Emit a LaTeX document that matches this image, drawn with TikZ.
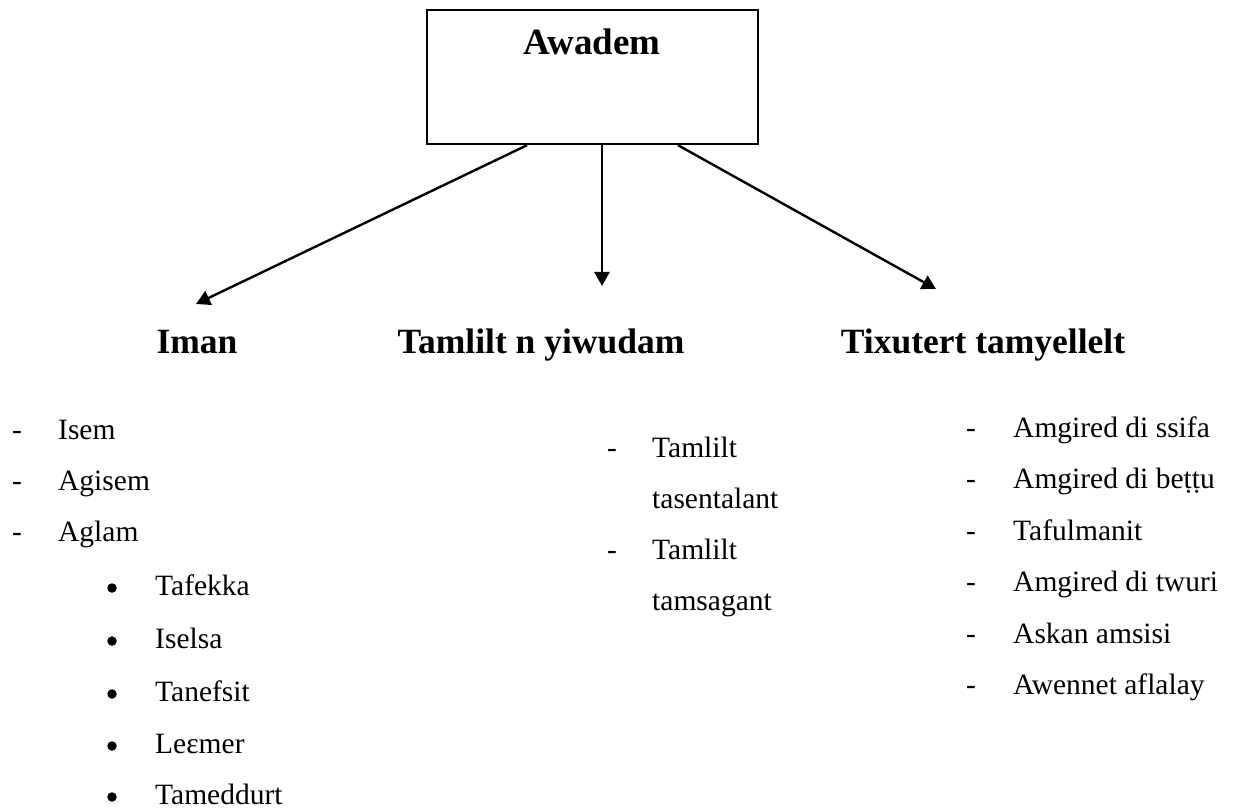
\documentclass[tikz,border=0pt]{standalone}
\usepackage{fontspec}
\setmainfont{Liberation Serif}
\usetikzlibrary{arrows.meta,calc}
\begin{document}
\begin{tikzpicture}[x=1pt,y=-1pt,
  head/.style={font=\fontsize{35.5}{40}\selectfont\bfseries, inner sep=0pt, anchor=base},
  item/.style={font=\fontsize{29.5}{34}\selectfont, inner sep=0pt, anchor=base west},
  dashmark/.style={font=\fontsize{29.5}{34}\selectfont, inner sep=0pt, anchor=base west},
  dot/.style={circle, fill=black, inner sep=0pt, minimum size=9.5pt},
  conn/.style={line width=2.4pt, -{Triangle[length=14pt,width=15pt]}}
]
\useasboundingbox (0,0) rectangle (1243,810);
% top box
\node[draw, line width=2.2pt, minimum width=331pt, minimum height=134pt, inner sep=0pt, anchor=north west] (box) at (426,9) {};
\node[head, font=\fontsize{37}{40}\selectfont\bfseries] (awadem) at (592,55) {Awadem};
% headings
\node[head] (iman) at (197,354) {Iman};
\node[head] (tamlilt) at (541,354) {Tamlilt n yiwudam};
\node[head] (tixutert) at (983,354) {Tixutert tamyellelt};
\coordinate (s1) at ($(box.south west)+(101,0)$);
\coordinate (s2) at ($(box.south west)+(176,0)$);
\coordinate (s3) at ($(box.south west)+(252,0)$);
\coordinate (e1) at (196,304);
\coordinate (e2) at (602,286);
\coordinate (e3) at (936,289);
\draw[conn] (s1) -- (e1);
\draw[conn] (s2) -- (e2);
\draw[conn] (s3) -- (e3);
% left list
\node[dashmark] (ld1) at (12,439) {-};
\node[item] (l1) at (58,439) {Isem};
\node[dashmark] (ld2) at (12,490) {-};
\node[item] (l2) at (58,490) {Agisem};
\node[dashmark] (ld3) at (12,541) {-};
\node[item] (l3) at (58,541) {Aglam};
\node[dot] (b1) at (112,588) {};
\node[item] (l4) at (155,595) {Tafekka};
\node[dot] (b2) at (112,641) {};
\node[item] (l5) at (155,648) {Iselsa};
\node[dot] (b3) at (112,694) {};
\node[item] (l6) at (155,701) {Tanefsit};
\node[dot] (b4) at (112,746) {};
\node[item] (l7) at (155,753) {Leɛmer};
\node[dot] (b5) at (112,797) {};
\node[item] (l8) at (155,804) {Tameddurt};
% middle list
\node[dashmark] (md1) at (607,457) {-};
\node[item] (m1) at (652,457) {Tamlilt};
\node[item] (m2) at (652,508) {tasentalant};
\node[dashmark] (md2) at (607,559) {-};
\node[item] (m3) at (652,559) {Tamlilt};
\node[item] (m4) at (652,610) {tamsagant};
% right list
\node[dashmark] (rd1) at (966,437) {-};
\node[item] (r1) at (1013,437) {Amgired di ssifa};
\node[dashmark] (rd2) at (966,488.5) {-};
\node[item] (r2) at (1013,488.5) {Amgired di beṭṭu};
\node[dashmark] (rd3) at (966,540) {-};
\node[item] (r3) at (1013,540) {Tafulmanit};
\node[dashmark] (rd4) at (966,591.5) {-};
\node[item] (r4) at (1013,591.5) {Amgired di twuri};
\node[dashmark] (rd5) at (966,643) {-};
\node[item] (r5) at (1013,643) {Askan amsisi};
\node[dashmark] (rd6) at (966,694.5) {-};
\node[item] (r6) at (1013,694.5) {Awennet aflalay};
\end{tikzpicture}
\end{document}
